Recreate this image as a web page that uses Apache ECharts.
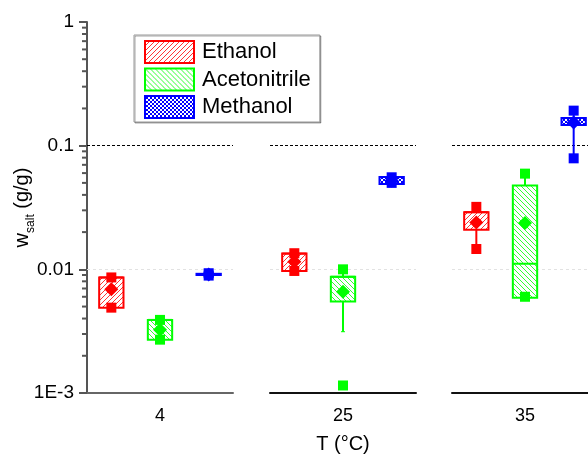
<!DOCTYPE html>
<html>
<head>
<meta charset="utf-8">
<script src="https://cdn.jsdelivr.net/npm/echarts@6/dist/echarts.min.js"></script>
<style>
  html, body { margin: 0; padding: 0; background: #fff; }
  #chart { width: 588px; height: 455px; }
</style>
</head>
<body>
<div id="chart"></div>
<script>
// ---- data -------------------------------------------------------------
const temps = ['4', '25', '35'];                       // T (°C), one panel each
const solvents = ['Ethanol', 'Acetonitrile', 'Methanol'];

// box statistics: rows = solvent, columns = temperature (4, 25, 35 °C)
const q1 = [
  [0.0049, 0.0097, 0.0209],
  [0.0027, 0.0055, 0.0059],
  [0.0090, 0.0490, 0.147]
];
const q3 = [
  [0.0086, 0.0134, 0.0290],
  [0.0039, 0.0087, 0.0476],
  [0.0092, 0.0557, 0.167]
];
const median = [
  [0.0086, 0.0134, 0.0290],
  [0.0039, 0.0087, 0.0111],
  [0.0090, 0.0490, 0.147]
];
const mean = [
  [0.0069, 0.0115, 0.0239],
  [0.00325, 0.0066, 0.0237],
  [0.0091, 0.0523, 0.154]
];
const minVal = [
  [0.0049, 0.0097, 0.0146],
  [0.0027, 0.00115, 0.0060],
  [0.0089, 0.0500, 0.079]
];
const maxVal = [
  [0.0086, 0.0135, 0.0320],
  [0.0039, 0.0100, 0.0594],
  [0.0093, 0.0555, 0.192]
];
const whiskerLow = [
  [0.0049, 0.0097, 0.0146],
  [0.0027, 0.00313, 0.0060],
  [0.0089, 0.0500, 0.079]
];
const whiskerHigh = [
  [0.0086, 0.0135, 0.0320],
  [0.0039, 0.0100, 0.0594],
  [0.0093, 0.0555, 0.192]
];

// y tick labels keyed by decade exponent
const yTickLabels = { '0': '1', '-1': '0.1', '-2': '0.01', '-3': '1E-3' };
const refLevels = [0.1, 0.01];

// ---- style ------------------------------------------------------------
const FONT = '"Liberation Sans", Arial, sans-serif';
const colors = ['#ff0000', '#00ff00', '#0000ff'];
const panelLeft = [87, 270, 452];
const panelWidth = 146;
const axisColors = ['#666', '#111', '#111'];

function hatch(color, kind) {
  const s = kind === 'cross' ? 4 : 5;
  const cv = document.createElement('canvas');
  cv.width = cv.height = s;
  const ctx = cv.getContext('2d');
  ctx.fillStyle = '#fff';
  ctx.fillRect(0, 0, s, s);
  ctx.strokeStyle = color;
  ctx.lineWidth = kind === 'cross' ? 1 : 0.8;
  const seg = (a, b, c, d) => { ctx.beginPath(); ctx.moveTo(a, b); ctx.lineTo(c, d); ctx.stroke(); };
  if (kind === 'fwd' || kind === 'cross') { for (const o of [-s, 0, s]) seg(o, s, o + s, 0); }
  if (kind === 'back' || kind === 'cross') { for (const o of [-s, 0, s]) seg(o, 0, o + s, s); }
  return { image: cv, repeat: 'repeat' };
}
const patterns = [hatch(colors[0], 'fwd'), hatch(colors[1], 'back'), hatch(colors[2], 'cross')];

// ---- rendering --------------------------------------------------------
function renderBox(params, api) {
  const s = api.value(0);
  const col = colors[s];
  const pt = v => api.coord([s, v]);
  const half = api.size([1, 1], [s, 0.01])[0] * 0.25;
  const cx = pt(api.value(1))[0];
  const yQ1 = pt(api.value(1))[1];
  const yQ3 = pt(api.value(2))[1];
  const yMed = pt(api.value(3))[1];
  const yMean = pt(api.value(4))[1];
  const yMin = pt(api.value(5))[1];
  const yMax = pt(api.value(6))[1];
  const yWL = pt(api.value(7))[1];
  const yWH = pt(api.value(8))[1];
  const line = (x1, y1, x2, y2, w) => ({ type: 'line', shape: { x1, y1, x2, y2 }, style: { stroke: col, lineWidth: w } });
  const square = y => ({ type: 'rect', shape: { x: cx - 5, y: y - 5, width: 10, height: 10 }, style: { fill: col } });
  return {
    type: 'group',
    children: [
      line(cx, yQ3, cx, yWH, 2),
      line(cx, yQ1, cx, yWL, 2),
      line(cx - 2, yWL, cx + 2, yWL, 1),
      { type: 'rect', shape: { x: cx - half, y: yQ3, width: 2 * half, height: Math.max(yQ1 - yQ3, 0.5) },
        style: { fill: patterns[s], stroke: col, lineWidth: 2 } },
      line(cx - half, yMed, cx + half, yMed, 2),
      square(yMin),
      square(yMax),
      { type: 'polygon', shape: { points: [[cx, yMean - 7], [cx + 7, yMean], [cx, yMean + 7], [cx - 7, yMean]] },
        style: { fill: col } }
    ]
  };
}

function renderMinorTick(params, api) {
  const x0 = params.coordSys.x;
  const y = api.coord([0, api.value(1)])[1];
  return { type: 'line', shape: { x1: x0 - 5, y1: y, x2: x0, y2: y }, style: { stroke: '#555', lineWidth: 2 } };
}

// log minor ticks at 2..9 × 10^e
const minorTicks = [];
for (let e = -3; e < 0; e++) for (let k = 2; k <= 9; k++) minorTicks.push([0, k * Math.pow(10, e)]);

const grids = [], xAxes = [], yAxes = [], series = [];
temps.forEach((t, g) => {
  grids.push({ left: panelLeft[g], width: panelWidth, top: 22, height: 371, outerBoundsMode: 'none', containLabel: false });
  xAxes.push({
    type: 'category', gridIndex: g, data: solvents, boundaryGap: true,
    axisLine: { show: true, lineStyle: { color: axisColors[g], width: 2 } },
    axisTick: { show: false },
    splitLine: { show: false },
    axisLabel: { interval: 0, margin: 14, color: '#000', fontSize: 18, fontFamily: FONT,
                 formatter: (v, i) => (i === 1 ? t : '') },
    name: g === 1 ? 'T (°C)' : '', nameLocation: 'middle', nameGap: 41, nameMoveOverlap: false,
    nameTextStyle: { color: '#000', fontSize: 20, fontFamily: FONT }
  });
  yAxes.push({
    type: 'log', logBase: 10, gridIndex: g, min: 0.001, max: 1, show: g === 0,
    axisLine: { show: true, lineStyle: { color: '#555', width: 2 } },
    axisTick: { show: true, length: 8, inside: false, lineStyle: { color: '#555', width: 2 } },
    minorTick: { show: false },
    splitLine: { show: false },
    axisLabel: { margin: 13, color: '#000', fontSize: 19, fontFamily: FONT,
                 formatter: v => yTickLabels[String(Math.round(Math.log10(v)))] },
    name: g === 0 ? '{w|w}{s|salt}{w| (g/g)}' : '',
    nameLocation: 'middle', nameRotate: 90, nameGap: 50, nameMoveOverlap: false,
    nameTextStyle: {
      rich: {
        w: { fontSize: 20, fontFamily: FONT, color: '#000', lineHeight: 30, verticalAlign: 'middle' },
        s: { fontSize: 12, fontFamily: FONT, color: '#000', lineHeight: 12, verticalAlign: 'bottom' }
      }
    }
  });
  solvents.forEach((name, s) => {
    const ser = {
      type: 'custom', name, xAxisIndex: g, yAxisIndex: g, silent: true, z: 3,
      itemStyle: { color: colors[s] },
      renderItem: renderBox,
      encode: { x: 0, y: [1, 2, 3, 4, 5, 6, 7, 8] },
      data: [[s, q1[s][g], q3[s][g], median[s][g], mean[s][g], minVal[s][g], maxVal[s][g], whiskerLow[s][g], whiskerHigh[s][g]]]
    };
    if (s === 0) {
      ser.markLine = {
        silent: true, symbol: 'none', label: { show: false }, z: 1,
        data: refLevels.map((v, i) => ({
          yAxis: v,
          lineStyle: i === 0 ? { color: '#000', type: [3, 2], width: 1 } : { color: '#e2e2e2', type: [3, 3], width: 1 }
        }))
      };
    }
    series.push(ser);
  });
});

series.push({
  type: 'custom', xAxisIndex: 0, yAxisIndex: 0, silent: true, clip: false,
  renderItem: renderMinorTick, encode: { x: 0, y: 1 }, data: minorTicks
});

const chart = echarts.init(document.getElementById('chart'), null, { renderer: 'canvas' });
chart.setOption({
  animation: false,
  backgroundColor: '#fff',
  textStyle: { fontFamily: FONT },
  grid: grids,
  xAxis: xAxes,
  yAxis: yAxes,
  legend: {
    orient: 'vertical', left: 134, top: 35,
    padding: [5, 9, 3, 10],
    itemWidth: 49, itemHeight: 22, itemGap: 3.5,
    backgroundColor: '#fff',
    borderColor: '#999', borderWidth: 1,
    shadowColor: 'rgba(0,0,0,0.35)', shadowOffsetX: 1, shadowOffsetY: 1, shadowBlur: 0,
    selectedMode: false,
    textStyle: { color: '#000', fontSize: 22, fontFamily: FONT, lineHeight: 24, padding: [0, 0, 0, 3] },
    data: solvents.map((n, i) => ({
      name: n, icon: 'rect',
      itemStyle: { color: patterns[i], borderColor: colors[i], borderWidth: 2 }
    }))
  },
  series
});
</script>
</body>
</html>
